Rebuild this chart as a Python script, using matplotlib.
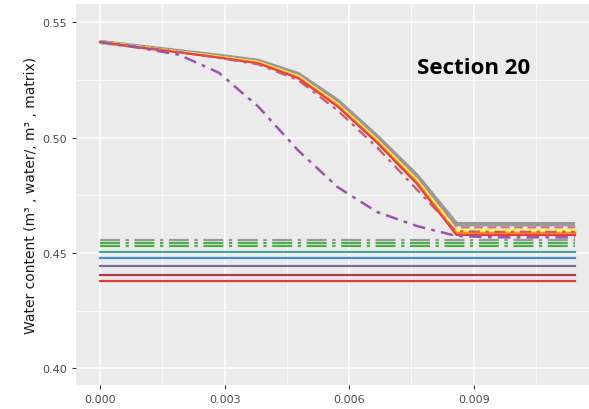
import numpy as np
from matplotlib import pyplot as plt

# valores
tempo = [0.0, 0.00095, 0.0019, 0.00286, 0.00381, 0.00477, 0.00572,
         0.00667, 0.00763, 0.00858, 0.00953, 0.01049, 0.01144]

# curvas que descem
cinza = [0.5415, 0.5395, 0.5375, 0.5355, 0.5333, 0.5276, 0.5160,
         0.5005, 0.4835, 0.4625, 0.4625, 0.4625, 0.4625]
rosa = [0.5415, 0.5394, 0.5373, 0.5352, 0.5329, 0.5270, 0.5152,
        0.4996, 0.4824, 0.4611, 0.4611, 0.4611, 0.4611]
amarelo = [0.5415, 0.5393, 0.5372, 0.5350, 0.5327, 0.5266, 0.5146,
           0.4990, 0.4816, 0.4598, 0.4598, 0.4598, 0.4598]
laranja = [0.5415, 0.5392, 0.5371, 0.5349, 0.5325, 0.5262, 0.5141,
           0.4984, 0.4808, 0.4587, 0.4587, 0.4587, 0.4587]
vermelho = [0.5415, 0.5391, 0.5370, 0.5347, 0.5322, 0.5258, 0.5135,
            0.4978, 0.4800, 0.4578, 0.4578, 0.4578, 0.4578]
tracoPonto = [0.5415, 0.5394, 0.5372, 0.5346, 0.5318, 0.5250, 0.5118,
              0.4958, 0.4775, 0.4594, 0.4592, 0.4592, 0.4592]
roxo = [0.5415, 0.5390, 0.5360, 0.5282, 0.5135, 0.4945, 0.4786,
        0.4678, 0.4617, 0.4574, 0.4568, 0.4568, 0.4568]

# linhas constantes
nivelCinza = 0.4556
nivelVerde1 = 0.4543
nivelVerde2 = 0.4530
nivelTeal = 0.4505
nivelAzul = 0.4480
nivelRoxo = 0.4445
nivelBordo = 0.4405
nivelVermelho = 0.4380

yTicks = [0.40, 0.45, 0.50, 0.55]
xTicks = [0.000, 0.003, 0.006, 0.009]

plt.rcParams['font.family'] = ['DejaVu Sans']

fig = plt.figure(figsize=(5.89, 4.10), dpi=100)
ax = fig.add_axes([76/589, 24/410, 1 - 76/589, (386 - 5)/410])
ax.set_facecolor('#EBEBEB')
for s in ax.spines.values():
    s.set_visible(False)

ax.set_xlim(-0.000578, 0.011774)
ax.set_ylim(0.45 - (386 - 254)/2306, 0.45 + (254 - 5)/2306)

ax.set_xticks(xTicks)
ax.set_xticklabels(['0.000', '0.003', '0.006', '0.009'])
ax.set_yticks(yTicks)
ax.set_yticklabels(['0.40', '0.45', '0.50', '0.55'])
ax.set_xticks([0.0015, 0.0045, 0.0075, 0.0105], minor=True)
ax.set_yticks([0.425, 0.475, 0.525], minor=True)
ax.tick_params(which='major', length=3, width=0.8, color='#333333',
               labelcolor='#4D4D4D', labelsize=8)
ax.tick_params(which='minor', length=0)
ax.grid(True, which='major', color='white', linewidth=1.1)
ax.grid(True, which='minor', color='white', linewidth=0.55)
ax.set_axisbelow(True)

x0, x1 = tempo[0], tempo[-1]

# horizontais
ax.plot([x0, x1], [nivelVermelho]*2, color='#E8383A', lw=1.6)
ax.plot([x0, x1], [nivelBordo]*2, color='#B23A55', lw=1.6)
ax.plot([x0, x1], [nivelRoxo]*2, color='#7A6E9E', lw=1.6)
ax.plot([x0, x1], [nivelAzul]*2, color='#4A8CC4', lw=1.6)
ax.plot([x0, x1], [nivelTeal]*2, color='#48A39A', lw=1.6)
ax.plot([x0, x1], [nivelVerde2]*2, color='#4DAF4A', lw=1.6,
        dashes=(9, 2.5, 1.5, 2.5))
ax.plot([x0, x1], [nivelVerde1]*2, color='#4DAF4A', lw=1.6,
        dashes=(9, 2.5, 1.5, 2.5))
ax.plot([x0, x1], [nivelCinza]*2, color='#999999', lw=1.6,
        dashes=(9, 2.5, 1.5, 2.5))

# curvas
ax.plot(tempo, cinza, color='#999999', lw=3.2, solid_capstyle='butt')
ax.plot(tempo, rosa, color='#D0709A', lw=1.6, dashes=(4, 2))
ax.plot(tempo, amarelo, color='#FFEE33', lw=2.2)
ax.plot(tempo, amarelo, color='#FFFFCC', lw=1.0, dashes=(3, 3))
ax.plot(tempo, laranja, color='#FF8C1A', lw=1.6)
ax.plot(tempo, vermelho, color='#E8383A', lw=1.4)
ax.plot(tempo, tracoPonto, color='#CC5A6E', lw=1.6,
        dashes=(5, 2.5, 1.5, 2.5))
ax.plot(tempo, roxo, color='#9A55A8', lw=1.8,
        dashes=(5, 2.5, 1.5, 2.5))

ax.text(0.009, 0.5305, 'Section 20', fontsize=16, fontweight='bold',
        family='Open Sans', ha='center', va='center', color='black')

ax.set_ylabel('Water content (m³ , water/, m³ , matrix)', fontsize=10,
              color='#1A1A1A', labelpad=3)

plt.savefig('out.png', dpi=100)
